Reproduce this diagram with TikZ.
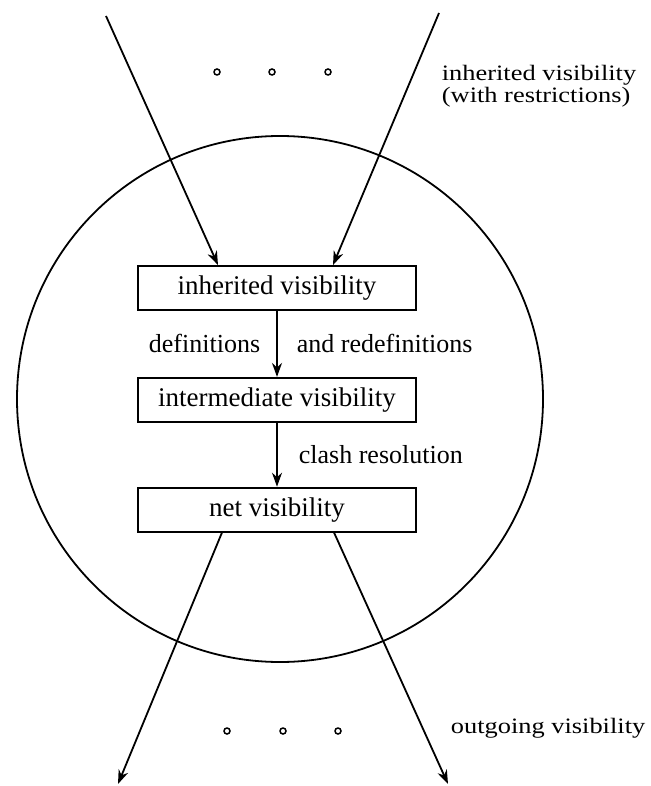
\documentclass[tikz,border=0pt]{standalone}
\usepackage{fontspec}
\setmainfont{Liberation Serif}
\newfontfamily\widefont[FakeStretch=1.2]{Liberation Serif}
\usetikzlibrary{arrows.meta,positioning}

\begin{document}
\begin{tikzpicture}[x=0.5pt, y=-0.5pt, node distance=33pt, >={Stealth[length=7pt,width=5pt]}, line width=0.9pt]
    \tikzstyle{box}=[draw, line width=0.9pt, minimum width=139pt, minimum height=22pt, inner sep=0pt, font=\fontsize{13.5}{16}\selectfont]
    \tikzstyle{lbl}=[font=\fontsize{13}{16}\selectfont, inner sep=0pt]
    \tikzstyle{side}=[font=\widefont\fontsize{11}{8.5}\selectfont, inner sep=0pt, align=left]
    \tikzstyle{dot}=[line width=0.75pt]
    \useasboundingbox (0,0) rectangle (650,786);

    \node[draw, circle, minimum size=263pt, inner sep=0pt] (unit) at (280,399) {};

    \node[box] (inh) at (277,288) {inherited visibility};
    \node[box, below=of inh] (mid) {intermediate visibility};
    \node[box, below=32pt of mid] (net) {net visibility};

    \coordinate (inL) at (106,16);
    \coordinate (inR) at (439,13);
    \coordinate (outL) at (118,784);
    \coordinate (outR) at (448,784);

    \draw[->] (inL) -- ([xshift=-29.5pt]inh.north);
    \draw[->] (inR) -- ([xshift=28pt]inh.north);
    \draw[->] (inh) -- node[lbl, left=8pt] {definitions} node[lbl, right=9.5pt] {and redefinitions} (mid);
    \draw[->] (mid) -- node[lbl, right=10.5pt] {clash resolution} (net);
    \draw[->] ([xshift=-27.5pt]net.south) -- (outL);
    \draw[->] ([xshift=28.5pt]net.south) -- (outR);

    % the dots
    \foreach \x in {217,272,328} \draw[dot] (\x,72) circle[radius=1.5pt];
    \foreach \x in {227,283,338} \draw[dot] (\x,731) circle[radius=1.5pt];

    \node[side, anchor=west] (inlbl) at (441,86) {inherited visibility\\(with restrictions)};
    \node[side, anchor=west] (outlbl) at (450,728) {outgoing visibility};
\end{tikzpicture}
\end{document}
